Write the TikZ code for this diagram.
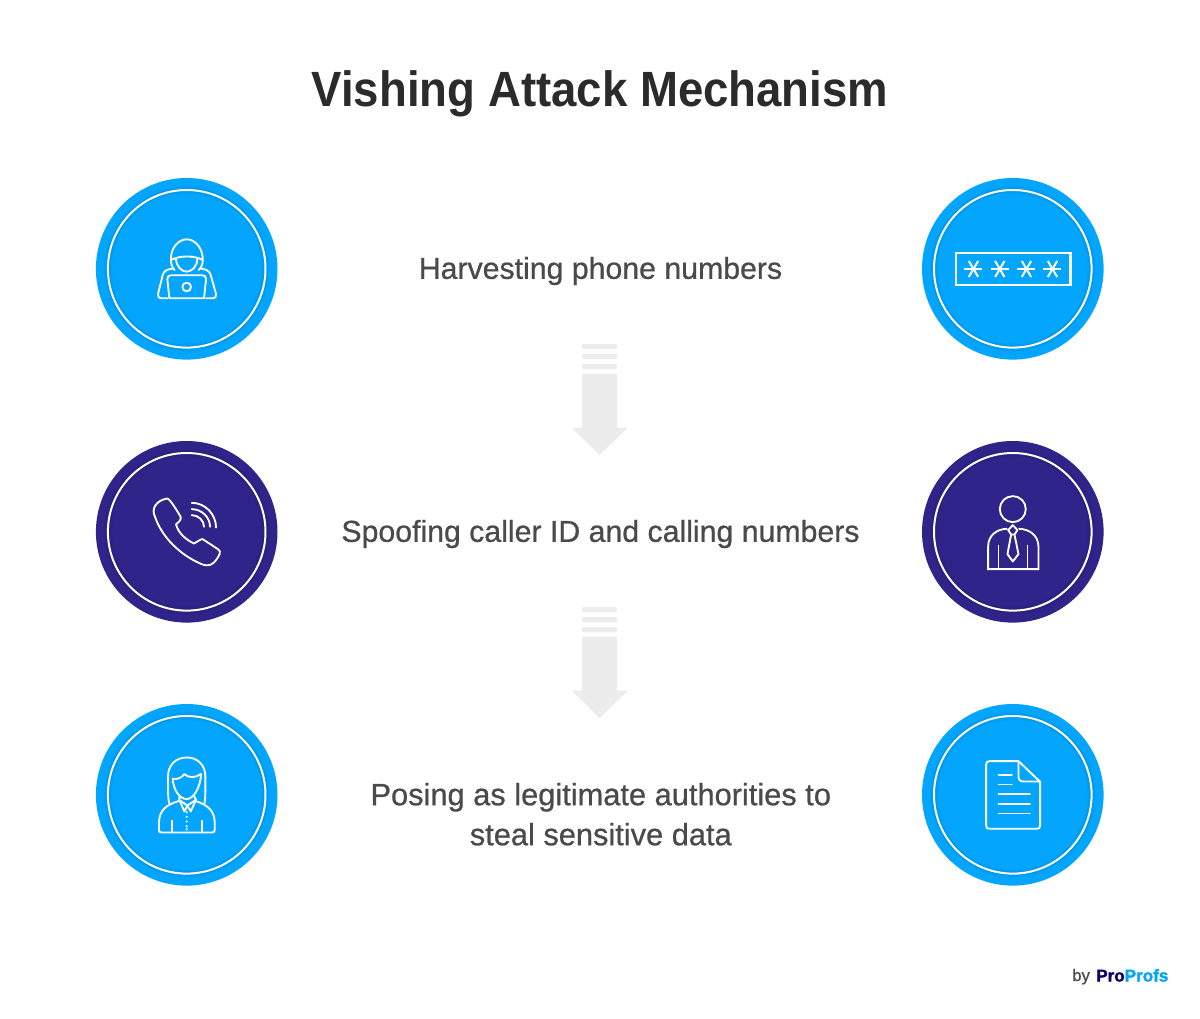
\documentclass[tikz,border=0pt]{standalone}
\usepackage{fontspec}
\setmainfont{Liberation Sans}
\newfontfamily\bodyfont[FakeBold=0.7]{Liberation Sans}
\newfontfamily\titlefont[FakeStretch=0.92]{Liberation Sans Bold}
\newfontfamily\logofont[FakeBold=1.8]{Liberation Sans Bold}
\definecolor{skyb}{HTML}{03A5FD}
\definecolor{navyb}{HTML}{2E2489}
\definecolor{inktitle}{HTML}{2B2B2B}
\definecolor{inkbody}{HTML}{4A4A4A}
\definecolor{arrowgrey}{HTML}{ECECEC}
\definecolor{logonavy}{HTML}{14006B}
\tikzset{
  disc/.style={circle,draw=none,fill=#1,minimum size=136.2pt,inner sep=0pt},
  ringline/.style={circle,draw=white,line width=1.5pt,fill=none,minimum size=118.2pt,inner sep=0pt},
  icon/.style={draw=white,line width=1.4pt,line join=round,line cap=round},
  bodytext/.style={font=\bodyfont\fontsize{22.7}{30}\selectfont,text=inkbody,align=center,inner sep=0pt},
  titletext/.style={font=\titlefont\fontsize{37.15}{44}\selectfont,text=inktitle,inner sep=0pt},
  blockgrey/.style={fill=arrowgrey,draw=none},
  iconzone/.style={x=.25pt,y=-.25pt}
}
\newcommand{\badge}[4]{%
  \node[disc=#4] (#1) at (#2,#3) {};
  \foreach \w/\o in {6/.025,4/.03,2.5/.035}{\draw[black,opacity=\o,line width=\w pt] (#1.center) circle (59.1pt);}
  \node[ringline] (#1r) at (#2,#3) {};
}
\newcommand{\blockarrow}[1]{%
  \begin{scope}[yshift=#1]
  \fill[blockgrey,rounded corners=.8pt] (582,344) rectangle (617,349);
  \fill[blockgrey,rounded corners=.8pt] (582,354) rectangle (617,359);
  \fill[blockgrey,rounded corners=.8pt] (582,364) rectangle (617,369);
  \fill[blockgrey] (582,373.5) -- (617,373.5) -- (617,427.7) -- (627.7,427.7) -- (599.6,455) -- (571.7,427.7) -- (582,427.7) -- cycle;
  \end{scope}
}
\begin{document}
\begin{tikzpicture}[x=.75pt,y=-.75pt]
\useasboundingbox (0,0) rectangle (1200,1018);
\fill[white] (0,0) rectangle (1200,1018);

\node[titletext] (title) at (600,93.5) {Vishing Attack Mechanism};

\badge{a}{186.7}{268.8}{skyb}
\badge{b}{1012.8}{268.8}{skyb}
\badge{c}{186.7}{531.8}{navyb}
\badge{d}{1012.8}{531.8}{navyb}
\badge{e}{186.7}{794.8}{skyb}
\badge{f}{1012.8}{794.8}{skyb}

\node[bodytext] (t1) at (600.5,271) {Harvesting phone numbers};
\node[bodytext] (t2) at (600.5,534) {Spoofing caller ID and calling numbers};
\node[bodytext,font=\bodyfont\fontsize{23.1}{30}\selectfont] (t3) at (600.8,814.2) {Posing as legitimate authorities to\\steal sensitive data};

\blockarrow{0pt}
\blockarrow{-197.25pt}

% hacker
\begin{scope}[shift={(a.center)},iconzone,shift={(-290,-296.5)}]
  \draw[icon] (243,272) .. controls (240,235) and (265,208) .. (290,208) .. controls (315,208) and (340,235) .. (338,272) .. controls (338,285) and (332,295) .. (326,300);
  \draw[icon] (243,272) .. controls (243,285) and (248,295) .. (254,300);
  \draw[icon] (243,270) .. controls (270,256) and (312,256) .. (338,270);
  \draw[icon] (258,265) .. controls (258,290) and (275,305) .. (290,305) .. controls (305,305) and (322,290) .. (322,265);
  \draw[icon] (248,296) .. controls (232,298) and (222,302) .. (218,315) -- (204,372) .. controls (203,381) and (207,385) .. (213,385) -- (232,385);
  \draw[icon] (333,296) .. controls (348,298) and (358,302) .. (362,315) -- (378,372) .. controls (379,381) and (375,385) .. (369,385) -- (348,385);
  \draw[icon] (238,385) -- (232,328) .. controls (231,320) and (236,316) .. (243,316) -- (337,316) .. controls (344,316) and (349,320) .. (348,328) -- (342,385) -- cycle;
  \draw[icon] (290,351) circle (13);
\end{scope}

% password
\begin{scope}[shift={(b.center)},iconzone,shift={(-293,-296.5)}]
  \draw[icon,line width=1.7pt,line cap=butt,line join=miter] (122,248) rectangle (466,345);
  \foreach \ax in {175,254,334,412}{
    \draw[icon,line width=1.5pt,line cap=butt] (\ax-27,298) -- (\ax+27,298);
    \draw[icon,line width=1.5pt,line cap=butt] (\ax-14,273) -- (\ax+14,321);
    \draw[icon,line width=1.5pt,line cap=butt] (\ax+14,273) -- (\ax-14,321);
  }
\end{scope}

% phone
\begin{scope}[shift={(c.center)},iconzone,shift={(-290,-290)}]
  \draw[icon] (232,190) .. controls (240,192) and (258,222) .. (272,245) .. controls (274,255) and (265,262) .. (258,268) .. controls (265,295) and (290,315) .. (312,325) .. controls (322,322) and (328,312) .. (338,312) -- (385,343) .. controls (395,350) and (387,362) .. (380,372) .. controls (368,390) and (355,395) .. (335,387) .. controls (270,360) and (215,305) .. (195,245) .. controls (182,220) and (200,195) .. (232,190) -- cycle;
  \draw[icon] (305,203) .. controls (345,203) and (378,237) .. (378,277);
  \draw[icon] (305,222) .. controls (335,222) and (360,246) .. (360,275);
  \draw[icon] (305,240) .. controls (325,240) and (342,256) .. (342,275);
\end{scope}

% man with tie
\begin{scope}[shift={(d.center)},iconzone,shift={(-293,-290)}]
  \draw[icon] (293,222) circle (39);
  \draw[icon,line join=miter] (275,281) .. controls (245,282) and (219,300) .. (219,335) -- (219,402) -- (370,402) -- (370,335) .. controls (370,300) and (342,282) .. (312,281);
  \draw[icon,line cap=butt] (250,330) -- (250,402);
  \draw[icon,line cap=butt] (337,330) -- (337,402);
  \draw[icon] (293,270) -- (307,285) -- (298,298) -- (288,298) -- (279,285) -- cycle;
  \draw[icon] (288,298) -- (277,357) -- (293,379) -- (310,357) -- (298,298);
\end{scope}

% woman
\begin{scope}[shift={(e.center)},iconzone,shift={(-290,-290)}]
  \draw[icon] (238,316) .. controls (233,300) and (234,270) .. (234,235) .. controls (234,200) and (258,178) .. (290,178) .. controls (322,178) and (346,200) .. (346,235) .. controls (346,270) and (347,300) .. (343,316);
  \draw[icon] (248,242) .. controls (262,245) and (276,238) .. (283,228) .. controls (295,240) and (318,240) .. (333,227) .. controls (332,265) and (312,302) .. (290,303) .. controls (268,302) and (250,275) .. (248,242) -- cycle;
  \draw[icon] (268,295) -- (268,305) -- (283,340) -- (292,322) -- (302,340) -- (318,305) -- (313,295);
  \draw[icon] (268,306) -- (292,322) -- (316,306);
  \draw[icon] (265,309) .. controls (230,320) and (208,335) .. (207,372) -- (207,396) .. controls (207,401) and (209,403) .. (214,403) -- (366,403) .. controls (371,403) and (374,401) .. (374,396) -- (374,372) .. controls (373,335) and (350,320) .. (318,309);
  \draw[icon,line cap=butt] (245,366) -- (245,403);
  \draw[icon,line cap=butt] (335,366) -- (335,403);
  \foreach \by in {342,356,370,384,393}{\fill[white] (290,\by) circle (3.5);}
\end{scope}

% document
\begin{scope}[shift={(f.center)},iconzone,shift={(-293,-290)}]
  \draw[icon] (310,189) -- (223,189) .. controls (216,189) and (213,192) .. (213,199) -- (213,382) .. controls (213,389) and (216,392) .. (223,392) -- (365,392) .. controls (372,392) and (375,389) .. (375,382) -- (375,251) -- cycle;
  \draw[icon] (310,189) -- (310,235) .. controls (310,245) and (315,250) .. (325,250) -- (375,250);
  \draw[icon] (250,230) -- (290,230);
  \draw[icon] (250,259) -- (290,259);
  \draw[icon] (250,288) -- (344,288);
  \draw[icon] (250,317) -- (344,317);
  \draw[icon] (250,346) -- (344,346);
\end{scope}

% logo
\node[anchor=base west,inner sep=0pt,text=inkbody,font=\bodyfont\fontsize{12.5}{14}\selectfont] (by) at (1072,981) {by};
\node[anchor=base west,inner sep=0pt,font=\logofont\fontsize{12.8}{16}\selectfont] (logo) at (1096,981.5) {\textcolor{logonavy}{Pro}\textcolor{skyb}{Profs}};
\end{tikzpicture}
\end{document}
